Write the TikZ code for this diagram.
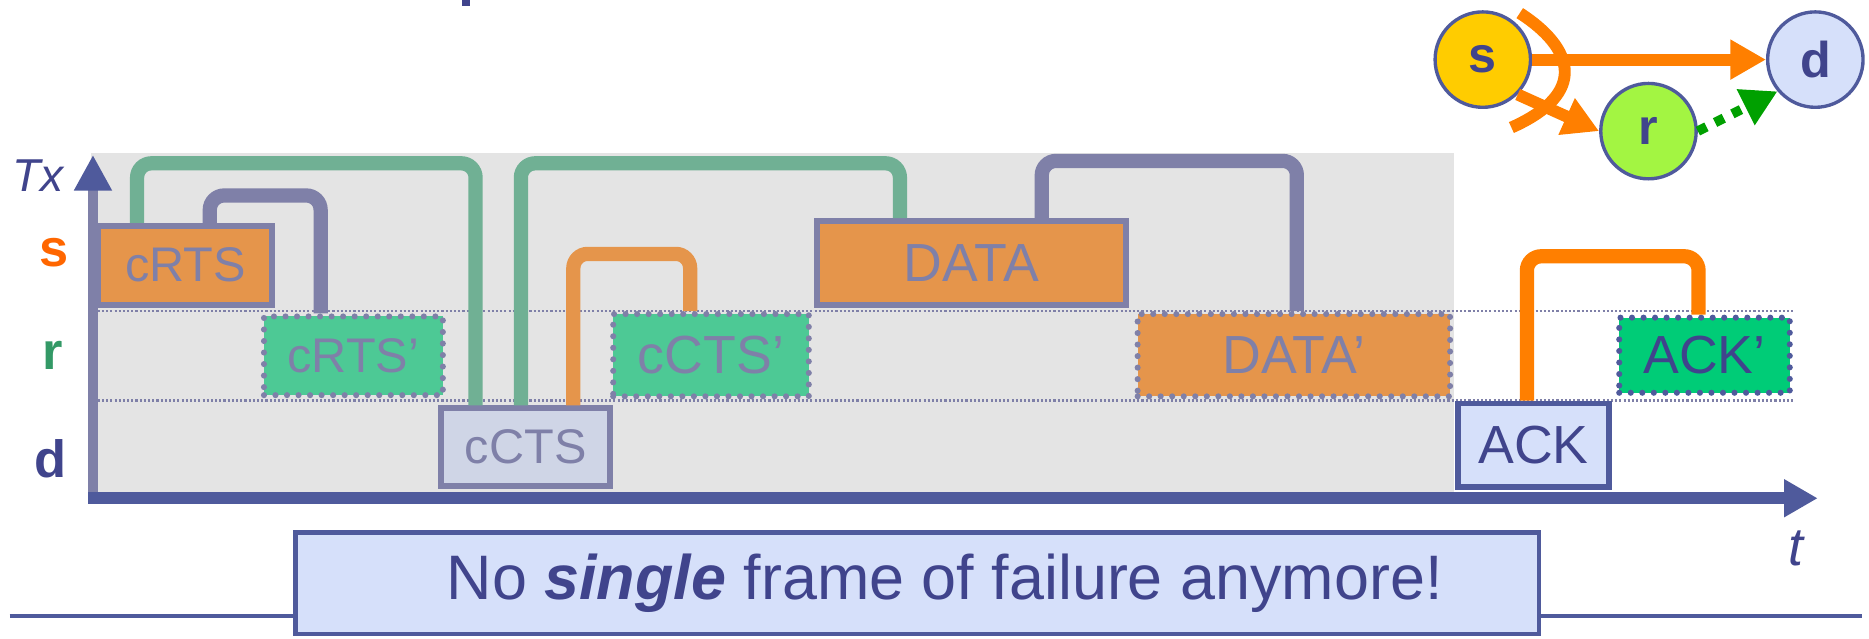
\documentclass[tikz,border=0pt]{standalone}
\usepackage{fontspec}
\setmainfont{Liberation Sans}
\usepackage{xcolor}
\usepackage{tikz}
\usetikzlibrary{arrows.meta, positioning}

\definecolor{xanhdam}{HTML}{40448C}
\definecolor{xanhtruc}{HTML}{4F5A9C}
\definecolor{xamtim}{HTML}{7F80A8}
\definecolor{camhop}{HTML}{E5954B}
\definecolor{xanhhop}{HTML}{4DC995}
\definecolor{xanhack}{HTML}{00CC77}
\definecolor{xanhnhat}{HTML}{D6E0FA}
\definecolor{xamcts}{HTML}{CFD5E6}
\definecolor{nenxam}{HTML}{E4E4E4}
\definecolor{xanhnoc}{HTML}{70B094}
\definecolor{camtuoi}{HTML}{FF7F00}
\definecolor{camchu}{HTML}{FF6600}
\definecolor{xanhchu}{HTML}{339966}
\definecolor{vangnut}{HTML}{FFCC00}
\definecolor{xanhnut}{HTML}{A3F542}
\definecolor{xanhmui}{HTML}{00A000}

\newcommand{\nhochu}{\fontsize{11.6}{13}\selectfont}
\newcommand{\lonchu}{\fontsize{12.8}{15}\selectfont}

\begin{document}
\begin{tikzpicture}[x=0.01cm, y=-0.01cm,
    khung/.style={draw=xamtim, line width=1.4pt, text=xamtim, font=\nhochu, inner sep=0pt},
    khungcham/.style={draw=xamtim, line width=1.45pt, dash pattern=on 0pt off 2.75pt, line cap=round, text=xamtim, font=\nhochu, inner sep=0pt},
    noi/.style={line width=3.4pt, rounded corners=1.2mm},
    nut/.style={circle, draw=xanhtruc, line width=0.8pt, minimum size=0.8cm, inner sep=0pt, text=xanhdam, font=\bfseries\fontsize{12}{14}\selectfont},
    muiten/.style={-{Triangle[length=8.5pt, width=9pt]}}]
    \useasboundingbox (0,0) rectangle (1568,536);

    % 1. Nền xám và các đường chấm
    \fill[xanhdam] (388,0) rectangle (394,5);
    \fill[nenxam] (76,128) rectangle (1220,414);
    \draw[xamtim, line width=0.55pt, dash pattern=on 0.5pt off 0.5pt] (82,261) -- (1505,261);
    \draw[xamtim, line width=0.55pt, dash pattern=on 0.5pt off 0.5pt] (82,336) -- (1505,336);

    % 2. Hệ trục
    \draw[xamtim, line width=2.3pt, -{Triangle[length=8.5pt, width=8.5pt, color=xanhtruc]}] (78,418) -- (78,130);
    \draw[xanhtruc, line width=2.85pt, -{Triangle[length=8pt, width=8.5pt]}] (74,418) -- (1525,418);
    \node[text=xanhdam, font=\itshape\fontsize{11}{13}\selectfont] (tx) at (32,147) {Tx};
    \node[text=xanhdam, font=\itshape\fontsize{12.8}{15}\selectfont] (t) at (1507,460) {t};
    \node[text=camchu, font=\bfseries\fontsize{12.5}{15}\selectfont] (ls) at (45,212) {s};
    \node[text=xanhchu, font=\bfseries\fontsize{12.5}{15}\selectfont] (lr) at (44,298) {r};
    \node[text=xanhdam, font=\bfseries\fontsize{12.5}{15}\selectfont] (ld) at (42,385) {d};

    % 3. Các khung
    \node[khung, fill=camhop, minimum width=1.46cm, minimum height=0.66cm] (crts) at (155.5,222.5) {cRTS};
    \node[khungcham, fill=xanhhop, minimum width=1.50cm, minimum height=0.66cm] (crtsp) at (296.5,298.5) {cRTS’};
    \node[khung, fill=xamcts, minimum width=1.42cm, minimum height=0.65cm] (ccts) at (441,375) {cCTS};
    \node[khungcham, fill=xanhhop, minimum width=1.64cm, minimum height=0.69cm, font=\lonchu] (cctsp) at (596.5,298) {cCTS’};
    \node[khung, fill=camhop, minimum width=2.59cm, minimum height=0.70cm, font=\lonchu] (data) at (815,220.5) {DATA};
    \node[khungcham, fill=camhop, minimum width=2.62cm, minimum height=0.69cm, font=\lonchu] (datap) at (1085.5,298) {DATA’};
    \node[khung, draw=xanhtruc, fill=xanhnhat, text=xanhdam, minimum width=1.26cm, minimum height=0.70cm, font=\lonchu] (ack) at (1286.5,373.5) {ACK};
    \node[khungcham, draw=xanhtruc, fill=xanhack, text=xanhdam, minimum width=1.43cm, minimum height=0.63cm, font=\lonchu] (ackp) at (1430,298) {ACK’};

    % 4. Các đường nối
    \draw[noi, xanhnoc] (crts.north -| 115,0) |- (399,137) -- (ccts.north -| 399,0);
    \draw[noi, xamtim] (crts.north -| 176,0) |- (269,164) -- (crtsp.north -| 269,0);
    \draw[noi, xanhnoc] (ccts.north -| 437,0) |- (755,137) -- (data.north -| 755,0);
    \draw[noi, camhop] (ccts.north -| 481,0) |- (579,213) -- (cctsp.north -| 579,0);
    \draw[noi, xamtim] (data.north -| 874,0) |- (1088,135) -- (datap.north -| 1088,0);
    \draw[noi, camtuoi] (ack.north -| 1281,0) |- (1425,215) -- (ackp.north -| 1425,0);

    % 5. Đồ thị s, r, d
    \node[nut, fill=vangnut] (s) at (1244,50) {s};
    \node[nut, fill=xanhnut] (r) at (1383,110) {r};
    \node[nut, fill=xanhnhat] (d) at (1523,50) {d};
    \draw[camtuoi, line width=2.85pt, muiten] (s) -- (d);
    \draw[camtuoi, line width=2.85pt, muiten] (s.south east) -- (r.west);
    \draw[xanhmui, line width=2.3pt, dash pattern=on 2.3pt off 2.3pt, muiten] (r.east) -- (d.220);
    \draw[camtuoi, line width=2.85pt] (1275,11) .. controls (1320,40) and (1333,78) .. (1268,107);

    % 6. Ghi chú
    \node[draw=xanhtruc, fill=xanhnhat, line width=1.1pt, minimum width=10.43cm, minimum height=0.85cm, text=xanhdam, font=\fontsize{15}{18}\selectfont] (note) at (769.5,489.5) {\hspace*{0.46cm}No \textbf{\textit{single}} frame of failure anymore!};
    \draw[xanhtruc, line width=0.85pt] (8,517) -- (note.west |- 8,517);
    \draw[xanhtruc, line width=0.85pt] (note.east |- 0,517) -- (1562,517);
\end{tikzpicture}
\end{document}
